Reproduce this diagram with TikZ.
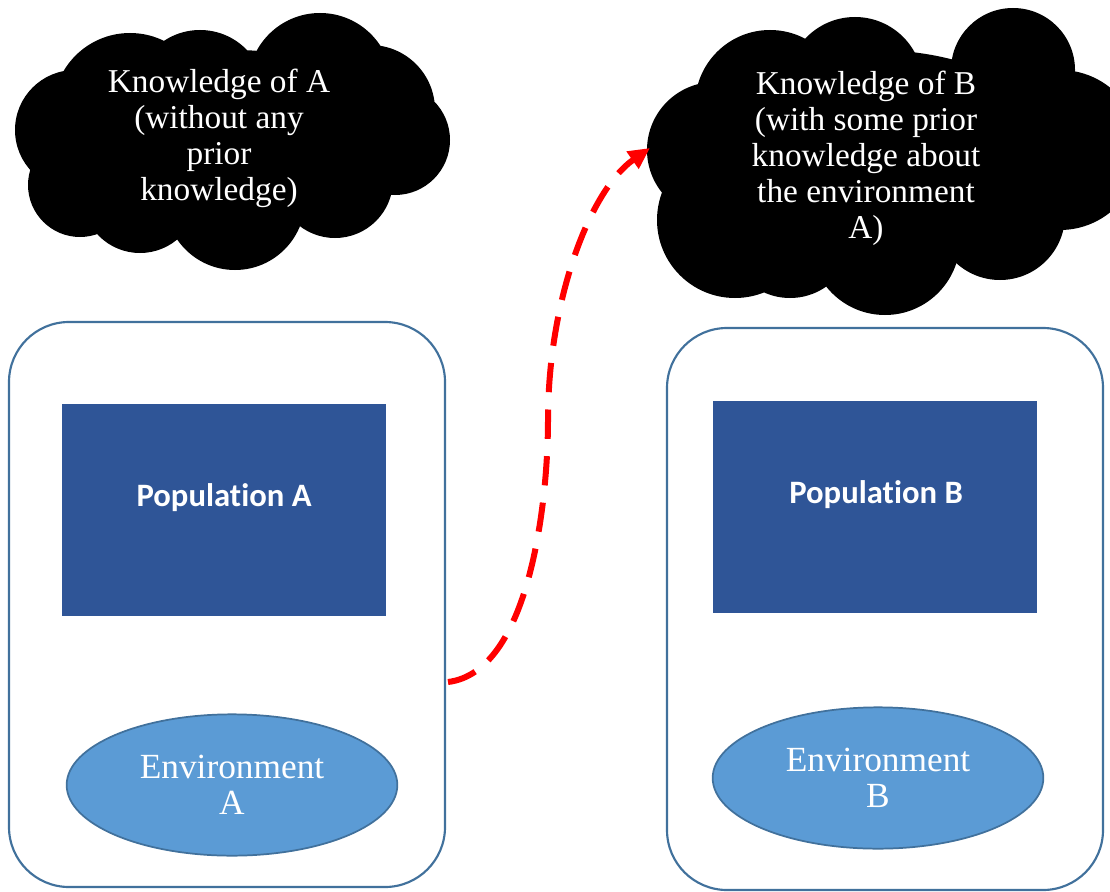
\documentclass[tikz,border=0pt]{standalone}
\usepackage{fontspec}
\setmainfont{Liberation Serif}
\newfontfamily\popfont[Ligatures=NoCommon]{Carlito}
\usetikzlibrary{shapes.geometric,arrows.meta}
\definecolor{boxline}{HTML}{41719C}
\definecolor{popblue}{HTML}{2F5597}
\definecolor{envblue}{HTML}{5B9BD5}
\definecolor{envline}{HTML}{41719C}
\begin{document}
\begin{tikzpicture}[x=0.75pt,y=-0.75pt,
  outerbox/.style={draw=boxline,line width=1.6pt,rounded corners=45pt,fill=white},
  popbox/.style={fill=popblue,text=white,inner sep=0pt,font=\popfont\bfseries\fontsize{24.5}{29}\selectfont},
  envnode/.style={ellipse,fill=envblue,draw=envline,line width=1.3pt,inner sep=0pt,minimum width=248pt,minimum height=106pt},
  envtext/.style={text=white,align=center,font=\fontsize{26.5}{27}\selectfont},
  cloudtext/.style={text=white,align=center,font=\fontsize{25}{27}\selectfont},
  transfer/.style={red,line width=4.5pt,dash pattern=on 22pt off 13pt,-{Triangle[length=16pt,width=15pt]}}
]
\useasboundingbox (0,0) rectangle (1110,892);
% Cloud A
\fill[black]
  (235,140) ellipse [x radius=160, y radius=90]
  (75,130) circle (60)
  (130,110) circle (77)
  (200,95) circle (65)
  (320,85) circle (72)
  (370,110) circle (65)
  (395,140) circle (55)
  (335,180) circle (58)
  (235,200) circle (70)
  (140,195) circle (58)
  (80,185) circle (52);
% Cloud B
\begin{scope}
\clip (0,0) rectangle (1110,892);
\fill[black]
  (875,160) ellipse [x radius=190, y radius=110]
  (715,150) circle (68)
  (735,220) circle (78)
  (770,105) circle (75)
  (855,85) circle (68)
  (1013,70) circle (62)
  (1060,150) circle (80)
  (1000,215) circle (65)
  (885,240) circle (75)
  (790,235) circle (63);
\end{scope}
\node[cloudtext] (kA) at (219,138) {Knowledge of A\\(without any\\prior\\knowledge)};
\node[cloudtext] (kB) at (866,158) {Knowledge of B\\(with some prior\\knowledge about\\the environment\\A)};
% Boxes
\node[outerbox,minimum width=327pt,minimum height=423.75pt,inner sep=0pt] (boxA) at (227,604.5) {};
\node[outerbox,minimum width=327pt,minimum height=421.5pt,inner sep=0pt] (boxB) at (885,609) {};
\node[popbox,minimum width=243pt,minimum height=159pt] (popA) at (224,510) {};
\node[popbox] (popAt) at (224,498) {Population A};
\node[popbox,minimum width=243pt,minimum height=159pt] (popB) at (875,507) {};
\node[popbox] (popBt) at (876,495) {Population B};
\node[envnode] (envA) at (232,785) {};
\node[envtext] (envAt) at (232,785) {Environment\\A};
\node[envnode] (envB) at (878,778) {};
\node[envtext] (envBt) at (878,778) {Environment\\B};
% Transfer arrow
\coordinate (tstart) at (448,682);
\coordinate (tmid) at (548,420);
\coordinate (tend) at (650,148);
\draw[transfer] (tstart) .. controls (530,672) and (548,500) .. (tmid) .. controls (548,300) and (590,190) .. (tend);
\end{tikzpicture}
\end{document}
